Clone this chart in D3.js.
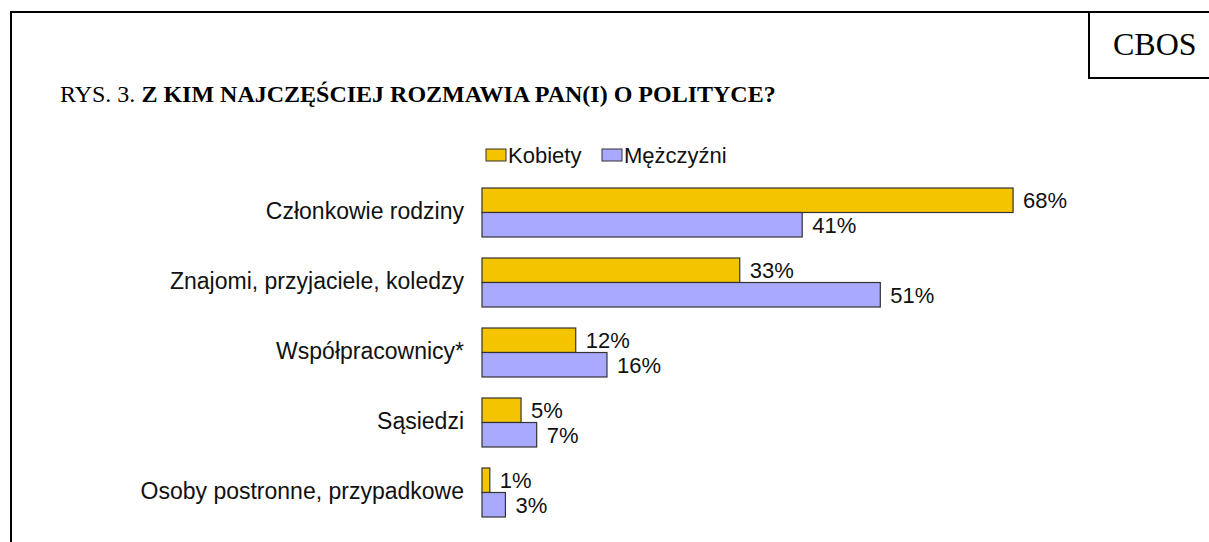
<!DOCTYPE html>
<html>
<head>
<meta charset="utf-8">
<script src="https://cdn.jsdelivr.net/npm/d3@7"></script>
<style>
  body { margin: 0; background: #fff; }
  svg { display: block; }
</style>
</head>
<body>
<div id="chart"></div>
<script>
const categories = [
    'Członkowie rodziny',
    'Znajomi, przyjaciele, koledzy',
    'Współpracownicy*',
    'Sąsiedzi',
    'Osoby postronne, przypadkowe'
];
const seriesNames = ['Kobiety', 'Mężczyźni'];
const kobiety = [68, 33, 12, 5, 1];
const mezczyzni = [41, 51, 16, 7, 3];
const colors = ['#F5C400', '#A9A9FF'];

const width = 1209, height = 542;
const sans = "'Liberation Sans', Arial, sans-serif";
const serif = "'Liberation Serif', 'Times New Roman', serif";

const svg = d3.select('#chart')
    .append('svg')
    .attr('width', width)
    .attr('height', height);

// Frame
svg.append('path')
    .attr('d', `M11,${height} V12 H${width}`)
    .attr('fill', 'none')
    .attr('stroke', '#000')
    .attr('stroke-width', 2);

svg.append('path')
    .attr('d', `M${width},78 H1089 V12`)
    .attr('fill', 'none')
    .attr('stroke', '#000')
    .attr('stroke-width', 2);

svg.append('text')
    .attr('x', 1113)
    .attr('y', 55)
    .style('font-family', serif)
    .style('font-size', '32px')
    .text('CBOS');

// Title
const title = svg.append('text')
    .attr('x', 60)
    .attr('y', 102)
    .style('font-family', serif)
    .style('font-size', '24px');
title.append('tspan').text('RYS. 3. ');
title.append('tspan').style('font-weight', 'bold').text('Z KIM NAJCZĘŚCIEJ ROZMAWIA PAN(I) O POLITYCE?');

// Scales
const x = d3.scaleLinear().domain([0, 100]).range([482, 1263]);
const y = d3.scaleBand().domain(categories).range([188, 517]).paddingInner(0.3).paddingOuter(0);
const ySub = d3.scaleBand().domain(seriesNames).range([0, y.bandwidth()]);

const rows = categories.map((c, i) => ({
    category: c,
    values: [
        { series: seriesNames[0], value: kobiety[i] },
        { series: seriesNames[1], value: mezczyzni[i] }
    ]
}));

const color = d3.scaleOrdinal().domain(seriesNames).range(colors);

// Category labels
svg.append('g')
    .selectAll('text')
    .data(categories)
    .join('text')
    .attr('x', 464)
    .attr('y', d => y(d) + y.bandwidth() / 2)
    .attr('dy', '0.3em')
    .attr('text-anchor', 'end')
    .style('font-family', sans)
    .style('font-size', '23px')
    .style('fill', '#111')
    .text(d => d);

// Bars
const groups = svg.append('g')
    .selectAll('g')
    .data(rows)
    .join('g')
    .attr('transform', d => `translate(0,${y(d.category)})`);

groups.selectAll('rect')
    .data(d => d.values)
    .join('rect')
    .attr('x', x(0))
    .attr('y', d => ySub(d.series))
    .attr('width', d => x(d.value) - x(0))
    .attr('height', ySub.bandwidth())
    .attr('fill', d => color(d.series))
    .attr('stroke', '#333')
    .attr('stroke-width', 1.2);

groups.selectAll('text')
    .data(d => d.values)
    .join('text')
    .attr('x', d => x(d.value) + 10)
    .attr('y', d => ySub(d.series) + ySub.bandwidth() / 2)
    .attr('dy', '0.36em')
    .style('font-family', sans)
    .style('font-size', '22px')
    .style('fill', '#111')
    .text(d => d.value + '%');

// Legend
const legendX = [486, 602];
const legend = svg.append('g')
    .selectAll('g')
    .data(seriesNames)
    .join('g')
    .attr('transform', (d, i) => `translate(${legendX[i]},149)`);

legend.append('rect')
    .attr('width', 20)
    .attr('height', 12)
    .attr('fill', d => color(d))
    .attr('stroke', '#333')
    .attr('stroke-width', 1);

legend.append('text')
    .attr('x', 22)
    .attr('y', 6)
    .attr('dy', '0.36em')
    .style('font-family', sans)
    .style('font-size', '22px')
    .style('fill', '#111')
    .text(d => d);
</script>
</body>
</html>
